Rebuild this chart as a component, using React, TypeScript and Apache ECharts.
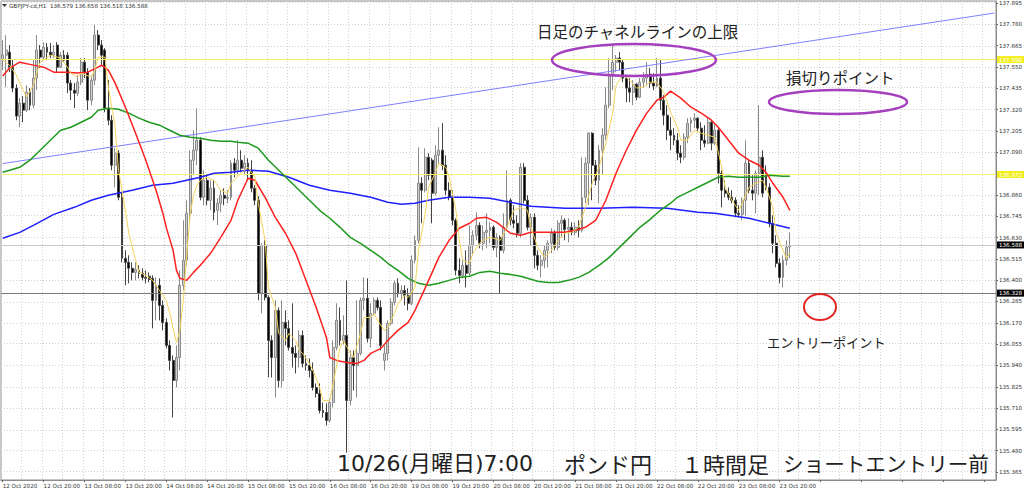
import React, { useEffect, useRef } from "react";
import * as echarts from "echarts";

// [open, close, low, high] per hourly bar, 12 Oct 08:00 .. 23 Oct 23:00
const CANDLES: number[][] = [
  [137.587,137.614,137.533,137.695],[137.614,137.641,137.441,137.722],[137.630,137.549,137.522,137.668],[137.549,137.436,137.414,137.587],
  [137.436,137.285,137.263,137.457],[137.285,137.355,137.225,137.382],[137.355,137.317,137.252,137.393],[137.317,137.414,137.306,137.452],
  [137.414,137.344,137.317,137.436],[137.344,137.490,137.328,137.587],[137.490,137.641,137.425,137.722],[137.641,137.603,137.544,137.668],
  [137.603,137.657,137.587,137.684],[137.657,137.630,137.587,137.679],[137.630,137.614,137.598,137.679],[137.614,137.630,137.598,137.668],
  [137.668,137.549,137.517,137.684],[137.549,137.614,137.544,137.630],[137.614,137.587,137.576,137.641],[137.614,137.463,137.409,137.630],
  [137.463,137.425,137.371,137.479],[137.425,137.409,137.328,137.463],[137.409,137.468,137.393,137.506],[137.468,137.576,137.452,137.598],
  [137.576,137.522,137.490,137.598],[137.522,137.371,137.317,137.544],[137.371,137.479,137.344,137.506],[137.479,137.722,137.452,137.776],
  [137.722,137.668,137.641,137.749],[137.668,137.614,137.560,137.695],[137.641,137.328,137.306,137.652],[137.328,137.263,137.236,137.479],
  [137.263,137.020,136.993,137.290],[137.020,137.085,136.901,137.112],[137.085,136.847,136.831,137.101],[136.847,136.518,136.496,136.874],
  [136.518,136.496,136.372,136.561],[136.496,136.464,136.383,136.534],[136.464,136.442,136.399,136.496],[136.442,136.458,136.399,136.496],
  [136.453,136.437,136.410,136.480],[136.437,136.415,136.399,136.464],[136.415,136.410,136.383,136.453],[136.421,136.404,136.388,136.442],
  [136.410,136.291,136.140,136.426],[136.291,136.372,136.183,136.415],[136.372,136.264,136.183,136.410],[136.264,136.172,136.129,136.291],
  [136.172,136.048,136.032,136.194],[136.048,135.967,135.913,136.075],[135.967,135.859,135.659,135.994],[135.859,135.983,135.821,136.048],
  [135.983,136.372,135.913,136.453],[136.372,136.507,136.345,136.723],[136.507,136.761,136.480,136.831],[136.761,137.047,136.723,137.101],
  [137.047,137.101,136.966,137.209],[137.101,137.155,137.020,137.328],[137.155,136.847,136.831,137.171],[136.847,136.939,136.804,136.993],
  [136.939,136.831,136.804,136.966],[136.831,136.896,136.777,136.939],[136.896,136.766,136.723,136.939],[136.777,136.815,136.696,136.842],
  [136.815,136.858,136.766,136.885],[136.858,136.842,136.804,136.896],[136.842,136.847,136.815,136.885],[136.847,137.031,136.831,137.047],
  [137.031,136.993,136.955,137.058],[136.993,137.047,136.966,137.155],[137.047,137.004,136.982,137.101],[137.004,137.031,136.966,137.074],
  [137.031,136.993,136.939,137.058],[136.993,136.896,136.874,137.047],[136.896,136.831,136.804,136.912],[136.831,136.329,136.291,136.853],
  [136.329,136.588,136.221,136.599],[136.588,136.307,136.291,136.615],[136.307,136.075,135.875,136.318],[136.075,135.983,135.875,136.102],
  [135.983,136.237,135.767,136.291],[136.237,135.859,135.821,136.253],[135.859,136.172,135.821,136.291],[136.172,136.140,136.048,136.237],
  [136.140,136.037,136.021,136.183],[136.037,136.005,135.929,136.275],[136.005,135.983,135.897,136.048],[135.983,136.102,135.929,136.129],
  [136.102,135.951,135.929,136.129],[135.951,135.940,135.913,135.994],[135.940,135.913,135.875,135.978],[135.913,135.821,135.805,135.956],
  [135.821,135.789,135.767,135.843],[135.789,135.697,135.681,135.843],[135.697,135.686,135.659,135.740],[135.686,135.643,135.616,135.735],
  [135.643,135.740,135.632,135.762],[135.740,136.037,135.713,136.075],[136.037,136.183,136.021,136.275],[136.183,136.075,136.048,136.253],
  [136.075,136.102,136.053,136.210],[136.102,135.751,135.470,136.399],[135.751,135.983,135.724,136.021],[135.983,135.940,135.805,136.021],
  [135.940,136.005,135.767,136.291],[136.005,136.291,135.994,136.307],[136.291,136.302,136.237,136.415],[136.302,136.086,136.064,136.410],
  [136.086,136.221,136.037,136.275],[136.221,136.291,136.210,136.307],[136.291,136.253,136.237,136.307],[136.253,136.048,136.021,136.291],
  [135.967,136.005,135.913,136.048],[136.005,136.167,135.967,136.183],[136.167,136.280,136.156,136.302],[136.280,136.383,136.264,136.399],
  [136.383,136.329,136.307,136.410],[136.329,136.345,136.291,136.372],[136.345,136.318,136.264,136.372],[136.318,136.275,136.237,136.356],
  [136.275,136.507,136.264,136.534],[136.507,136.615,136.491,136.642],[136.615,136.923,136.599,137.117],[136.923,136.885,136.707,136.955],
  [136.885,137.063,136.874,137.112],[137.063,136.966,136.939,137.085],[137.047,136.869,136.707,137.058],[136.869,137.074,136.858,137.128],
  [137.074,137.101,137.020,137.225],[137.101,137.020,136.993,137.247],[137.020,136.885,136.858,137.074],[136.885,136.847,136.831,136.928],
  [136.847,136.723,136.696,136.885],[136.723,136.453,136.426,136.734],[136.453,136.426,136.383,136.518],[136.426,136.480,136.410,136.518],
  [136.480,136.437,136.361,136.561],[136.437,136.588,136.426,136.696],[136.588,136.642,136.534,136.669],[136.642,136.696,136.615,136.766],
  [136.696,136.599,136.572,136.712],[136.599,136.658,136.561,136.696],[136.658,136.669,136.572,136.761],[136.669,136.685,136.599,136.712],
  [136.685,136.577,136.561,136.696],[136.577,136.631,136.523,136.653],[136.631,136.561,136.329,136.642],[136.561,136.685,136.545,136.761],
  [136.685,136.831,136.669,136.993],[136.831,136.723,136.696,136.842],[136.723,136.707,136.680,136.804],[136.707,136.653,136.631,136.750],
  [136.653,137.009,136.631,137.031],[137.009,136.831,136.815,137.031],[136.831,136.685,136.669,136.858],[136.685,136.739,136.588,136.761],
  [136.739,136.534,136.464,136.761],[136.534,136.480,136.453,136.561],[136.480,136.507,136.415,136.534],[136.507,136.561,136.464,136.588],
  [136.561,136.599,136.469,136.615],[136.599,136.653,136.545,136.680],[136.653,136.577,136.561,136.669],[136.577,136.707,136.561,136.723],
  [136.707,136.723,136.631,136.750],[136.723,136.674,136.615,136.734],[136.674,136.685,136.604,136.734],[136.685,136.658,136.642,136.712],
  [136.658,136.685,136.642,136.712],[136.685,136.669,136.631,136.723],[136.669,136.847,136.658,137.063],[136.847,137.031,136.815,137.063],
  [137.031,137.193,136.804,137.198],[137.193,137.020,136.831,137.198],[137.020,136.939,136.912,137.047],[136.939,137.101,136.815,137.128],
  [137.101,137.182,136.966,137.220],[137.182,137.344,137.155,137.441],[137.344,137.506,137.328,137.598],[137.506,137.576,137.425,137.668],
  [137.576,137.598,137.522,137.614],[137.598,137.576,137.533,137.630],[137.576,137.490,137.468,137.587],[137.490,137.436,137.360,137.506],
  [137.436,137.414,137.360,137.490],[137.414,137.457,137.344,137.479],[137.457,137.387,137.371,137.463],[137.387,137.468,137.382,137.490],
  [137.468,137.490,137.436,137.522],[137.490,137.511,137.452,137.576],[137.511,137.463,137.436,137.544],[137.463,137.447,137.425,137.517],
  [137.447,137.490,137.441,137.598],[137.490,137.371,137.317,137.587],[137.371,137.290,137.236,137.398],[137.290,137.209,137.155,137.344],
  [137.209,137.182,137.101,137.279],[137.182,137.155,137.128,137.220],[137.155,137.085,137.047,137.193],[137.085,137.063,137.031,137.128],
  [137.063,137.171,137.047,137.193],[137.171,137.247,137.139,137.274],[137.247,137.263,137.198,137.279],[137.263,137.274,137.220,137.301],
  [137.274,137.220,137.198,137.279],[137.220,137.155,137.101,137.252],[137.155,137.139,137.117,137.236],[137.139,137.252,137.133,137.279],
  [137.252,137.139,137.101,137.263],[137.139,137.209,137.128,137.247],[137.209,136.977,136.923,137.220],[136.977,136.885,136.793,136.993],
  [136.885,136.869,136.847,136.939],[136.869,136.847,136.831,136.901],[136.847,136.831,136.815,136.885],[136.831,136.761,136.739,136.847],
  [136.761,136.755,136.739,136.804],[136.755,136.831,136.723,136.847],[136.831,137.031,136.745,137.155],[137.031,136.885,136.869,137.047],
  [136.885,136.869,136.831,136.966],[136.869,136.977,136.761,136.993],[136.977,137.063,136.858,137.344],[137.063,136.869,136.847,137.101],
  [136.966,136.901,136.885,137.020],[136.901,136.707,136.685,136.923],[136.707,136.599,136.545,136.750],[136.599,136.491,136.469,136.642],
  [136.491,136.415,136.383,136.518],[136.415,136.507,136.361,136.534],[136.507,136.577,136.480,136.615],[136.579,136.588,136.518,136.658],
];

const TOTAL_SLOTS = 292; // bars plus empty space to the right edge

const X_TICK_LABELS = [
  "12 Oct 2020", "12 Oct 20:00", "13 Oct 08:00", "13 Oct 20:00", "14 Oct 08:00", "14 Oct 20:00",
  "15 Oct 08:00", "15 Oct 20:00", "16 Oct 08:00", "16 Oct 20:00", "19 Oct 08:00", "19 Oct 20:00",
  "20 Oct 08:00", "20 Oct 20:00", "21 Oct 08:00", "21 Oct 20:00", "22 Oct 08:00", "22 Oct 20:00",
  "23 Oct 08:00", "23 Oct 20:00",
];

const Y_TICKS = [
  137.895, 137.78, 137.665, 137.55, 137.435, 137.32, 137.205, 137.09, 136.975, 136.86, 136.745, 136.63,
  136.515, 136.4, 136.285, 136.17, 136.055, 135.94, 135.825, 135.71, 135.595, 135.48, 135.365,
];
const Y_MIN = 135.322;
const Y_MAX = 137.906;

// moving averages: [bar index, value]
const MA_YELLOW: number[][] = [
  [0,137.587],[2,137.560],[4,137.506],[6,137.425],[7,137.387],[9,137.452],[11,137.576],[14,137.614],[17,137.598],[19,137.549],
  [20,137.517],[22,137.495],[23,137.517],[26,137.495],[27,137.533],[28,137.603],[30,137.603],[31,137.441],[33,137.225],[34,136.993],
  [36,136.777],[37,136.653],[39,136.507],[40,136.442],[42,136.426],[44,136.399],[46,136.345],[48,136.291],[49,136.226],[50,136.140],
  [51,136.064],[52,136.129],[53,136.291],[54,136.534],[55,136.750],[56,136.858],[57,136.912],[58,136.939],[60,136.955],[62,136.939],
  [64,136.885],[66,136.869],[67,136.923],[70,136.977],[72,137.009],[74,136.955],[75,136.815],[77,136.615],[78,136.361],[80,136.253],
  [81,136.113],[83,136.075],[84,136.113],[86,136.075],[87,136.021],[88,136.005],[90,135.951],[91,135.913],[93,135.821],[94,135.751],
  [96,135.751],[97,135.843],[99,136.037],[100,136.075],[102,136.005],[103,135.983],[105,136.113],[106,136.199],[108,136.199],[109,136.221],
  [110,136.183],[112,136.129],[113,136.145],[115,136.221],[116,136.275],[118,136.318],[119,136.307],[121,136.361],[122,136.561],[124,136.761],
  [125,136.901],[127,136.982],[128,137.031],[130,137.009],[131,136.955],[133,136.777],[134,136.615],[135,136.507],[137,136.491],[138,136.545],
  [140,136.599],[141,136.615],[143,136.631],[144,136.626],[146,136.615],[148,136.685],[150,136.777],[152,136.793],[154,136.777],[155,136.685],
  [157,136.577],[159,136.523],[161,136.561],[163,136.615],[165,136.653],[167,136.658],[169,136.685],[171,136.793],[173,136.923],[175,137.009],
  [177,137.139],[179,137.301],[180,137.452],[182,137.506],[184,137.479],[186,137.436],[188,137.441],[190,137.468],[192,137.468],[194,137.414],
  [196,137.306],[198,137.225],[199,137.155],[201,137.155],[203,137.209],[205,137.193],[207,137.182],[209,137.171],[211,137.009],[212,136.901],
  [214,136.831],[216,136.777],[217,136.815],[219,136.901],[221,136.923],[223,136.939],[224,136.901],[226,136.793],[227,136.653],[229,136.561],
  [230,136.518],[231,136.545],
];

const MA_RED: number[][] = [
  [0,137.501],[2,137.544],[5,137.576],[9,137.560],[12,137.549],[15,137.522],[19,137.522],[22,137.517],[25,137.522],[28,137.549],
  [29,137.560],[31,137.533],[33,137.463],[36,137.333],[39,137.193],[42,137.047],[45,136.885],[47,136.761],[48,136.685],[50,136.561],
  [51,136.453],[52,136.410],[54,136.399],[56,136.442],[58,136.480],[61,136.545],[64,136.631],[67,136.723],[69,136.831],[72,136.950],
  [74,136.939],[77,136.847],[80,136.739],[83,136.653],[86,136.545],[89,136.399],[92,136.253],[95,136.091],[96,135.983],[98,135.967],
  [101,135.956],[104,135.951],[106,135.967],[108,136.005],[111,136.032],[113,136.075],[116,136.129],[119,136.172],[121,136.237],[123,136.318],
  [125,136.399],[128,136.523],[131,136.615],[134,136.680],[137,136.707],[139,136.734],[142,136.739],[145,136.712],[149,136.653],[152,136.642],
  [155,136.658],[160,136.658],[165,136.658],[168,136.669],[171,136.685],[174,136.723],[177,136.831],[180,136.977],[183,137.101],[186,137.209],
  [189,137.301],[192,137.371],[194,137.387],[196,137.420],[199,137.382],[202,137.333],[205,137.301],[208,137.263],[210,137.225],[213,137.155],
  [216,137.085],[219,137.047],[222,137.020],[224,136.982],[226,136.923],[229,136.847],[231,136.777],
];

const MA_GREEN: number[][] = [
  [0,136.982],[2,136.993],[5,137.009],[8,137.047],[11,137.101],[14,137.155],[17,137.209],[20,137.225],[23,137.252],[26,137.279],
  [28,137.317],[31,137.328],[34,137.322],[37,137.301],[40,137.274],[43,137.252],[46,137.236],[49,137.209],[52,137.182],[55,137.171],
  [58,137.166],[61,137.155],[64,137.150],[67,137.150],[69,137.144],[72,137.139],[75,137.112],[78,137.047],[81,136.993],[84,136.939],
  [87,136.885],[90,136.831],[93,136.777],[96,136.734],[99,136.685],[102,136.631],[105,136.599],[108,136.561],[111,136.523],[113,136.491],
  [116,136.453],[119,136.410],[122,136.383],[125,136.372],[128,136.383],[131,136.399],[134,136.415],[137,136.421],[140,136.442],[143,136.448],
  [146,136.437],[149,136.431],[152,136.421],[154,136.410],[157,136.394],[160,136.388],[163,136.388],[166,136.399],[169,136.415],[172,136.442],
  [175,136.480],[178,136.523],[181,136.577],[184,136.631],[187,136.685],[190,136.728],[193,136.777],[196,136.815],[198,136.847],[201,136.874],
  [204,136.901],[207,136.928],[210,136.955],[213,136.961],[216,136.955],[219,136.955],[222,136.955],[225,136.966],[229,136.961],[231,136.961],
];

const MA_BLUE: number[][] = [
  [0,136.626],[5,136.658],[9,136.696],[15,136.755],[21,136.793],[26,136.831],[31,136.858],[38,136.885],[44,136.912],[50,136.923],
  [54,136.939],[58,136.955],[62,136.977],[67,136.982],[72,136.993],[78,136.988],[84,136.955],[90,136.912],[96,136.885],[102,136.869],
  [108,136.847],[113,136.820],[117,136.809],[121,136.815],[125,136.831],[131,136.847],[137,136.847],[143,136.842],[146,136.831],[155,136.799],
  [165,136.788],[175,136.788],[185,136.793],[195,136.788],[204,136.766],[209,136.761],[219,136.734],[225,136.707],[231,136.680],
];

const LEVELS = [
  { value: 137.59, line: "#f6f36a", box: "#f2ee1c", text: "#ffffff" },
  { value: 136.972, line: "#f6f36a", box: "#f2ee1c", text: "#ffffff" },
  { value: 136.588, line: "#c8c8c8", box: "#000000", text: "#ffffff" },
  { value: 136.328, line: "#7a7a7a", box: "#000000", text: "#ffffff" },
];

const TREND_START = { bar: 0, value: 137.029 };
const TREND_END = { bar: 291, value: 137.841 };

const HEADER = "GBPJPY-cd,H1  136.579 136.658 136.518 136.588";
const NOTE_CHANNEL = "日足のチャネルラインの上限";
const NOTE_STOP = "損切りポイント";
const NOTE_ENTRY = "エントリーポイント";
const CAPTION = ["10/26(月曜日)7:00", "ポンド円", "１時間足", "ショートエントリー前"];

const JP = "'Noto Sans CJK JP', 'Noto Sans', sans-serif";
const JP_WIDE_DIGITS = "'DejaVu Sans', 'Noto Sans CJK JP', sans-serif";
const SMALL = "'DejaVu Sans', 'Liberation Sans', sans-serif";

export default function App() {
  const ref = useRef<HTMLDivElement>(null);
  useEffect(() => {
    const chart = echarts.init(ref.current!, null, { renderer: "svg" });
    const categories = Array.from({ length: TOTAL_SLOTS }, (_, i) => "b" + i);
    const maSeries = (name: string, data: number[][], color: string, width: number) => ({
      name,
      type: "line",
      data,
      symbol: "none",
      showSymbol: false,
      connectNulls: true,
      silent: true,
      z: 5,
      lineStyle: { color, width },
    });
    const captionStyle = [
      { x: 337, size: 22, font: JP_WIDE_DIGITS },
      { x: 564, size: 22, font: JP },
      { x: 681, size: 22, font: JP },
      { x: 783, size: 20.6, font: JP },
    ];
    const option: any = {
      animation: false,
      backgroundColor: "#ffffff",
      textStyle: { fontFamily: SMALL },
      grid: {
        left: 1, top: 1, width: 995, height: 479,
        show: true, borderColor: "#8c8c8c", borderWidth: 1,
        outerBoundsMode: "none",
      },
      xAxis: {
        type: "category",
        data: categories,
        boundaryGap: true,
        axisLine: { show: true, lineStyle: { color: "#8c8c8c", width: 1 } },
        axisTick: { show: true, interval: 11, alignWithLabel: true, length: 2, lineStyle: { color: "#666" } },
        axisLabel: {
          interval: 11,
          align: "left",
          fontSize: 5.6,
          color: "#333",
          margin: 3,
          fontFamily: SMALL,
          formatter: (_v: string, i: number) => (i % 12 === 0 && X_TICK_LABELS[i / 12]) || "",
        },
        splitLine: { show: true, interval: 5, lineStyle: { color: "#d2d2d2", type: [1, 2], width: 1 } },
      },
      yAxis: {
        type: "value",
        position: "right",
        min: Y_MIN,
        max: Y_MAX,
        axisLine: { show: true, lineStyle: { color: "#8c8c8c", width: 1 } },
        axisTick: { show: true, customValues: Y_TICKS, length: 2, lineStyle: { color: "#666" } },
        axisLabel: {
          customValues: Y_TICKS,
          fontSize: 5.6,
          color: "#333",
          margin: 3,
          fontFamily: SMALL,
          formatter: (v: number) => v.toFixed(3),
        },
        splitLine: { show: false },
      },
      series: [
        {
          name: "grid",
          type: "line",
          data: [],
          silent: true,
          z: 1,
          markLine: {
            silent: true,
            z: 1,
            symbol: ["none", "none"],
            label: { show: false },
            lineStyle: { color: "#d2d2d2", type: [1, 2], width: 1 },
            data: Y_TICKS.map((v) => ({ yAxis: v })),
          },
        },
        {
          name: "GBPJPY",
          type: "candlestick",
          data: CANDLES,
          barWidth: 2.4,
          z: 3,
          itemStyle: {
            color: "#cfcfcf",
            color0: "#000000",
            borderColor: "#8a8a8a",
            borderColor0: "#444444",
            borderWidth: 1,
          },
          markLine: {
            silent: true,
            z: 4,
            symbol: ["none", "none"],
            data: [
              ...LEVELS.map((l) => ({
                yAxis: l.value,
                lineStyle: { color: l.line, width: 1, type: "solid" },
                label: {
                  show: true,
                  position: "end",
                  distance: 1,
                  formatter: l.value.toFixed(3),
                  fontSize: 5.6,
                  fontFamily: SMALL,
                  color: l.text,
                  backgroundColor: l.box,
                  padding: [1, 2, 0, 2],
                },
              })),
              [
                {
                  coord: ["b" + TREND_START.bar, TREND_START.value],
                  lineStyle: { color: "#7f7fff", width: 1, type: "solid" },
                  label: { show: false },
                },
                { coord: ["b" + TREND_END.bar, TREND_END.value] },
              ],
            ],
          },
        },
        maSeries("MA200", MA_BLUE, "#1f1fff", 1.5),
        maSeries("MA75", MA_GREEN, "#1e9a1e", 1.5),
        maSeries("MA21", MA_RED, "#ff2020", 1.5),
        maSeries("MA5", MA_YELLOW, "#f3d35c", 1),
      ],
      graphic: [
        { type: "polygon", shape: { points: [[2, 4], [7, 4], [4.5, 7]] }, style: { fill: "#333" }, z: 10 },
        {
          type: "text", left: 9, top: 2.5, z: 10,
          style: { text: HEADER, fontSize: 5.6, fill: "#333", fontFamily: SMALL },
        },
        {
          type: "text", x: 537, y: 31, z: 10,
          style: { text: NOTE_CHANNEL, fontSize: 15.5, fill: "#222", fontFamily: JP, textVerticalAlign: "middle" },
        },
        {
          type: "ellipse", z: 10,
          shape: { cx: 634, cy: 60, rx: 82, ry: 16 },
          style: { fill: "none", stroke: "#a43fbe", lineWidth: 2.5 },
        },
        {
          type: "text", x: 786, y: 77, z: 10,
          style: { text: NOTE_STOP, fontSize: 15.5, fill: "#222", fontFamily: JP, textVerticalAlign: "middle" },
        },
        {
          type: "ellipse", z: 10,
          shape: { cx: 838, cy: 102, rx: 69, ry: 12 },
          style: { fill: "none", stroke: "#a43fbe", lineWidth: 2.5 },
        },
        {
          type: "ellipse", z: 10,
          shape: { cx: 820, cy: 307, rx: 16, ry: 13 },
          style: { fill: "none", stroke: "#e32626", lineWidth: 2 },
        },
        {
          type: "text", x: 767, y: 342, z: 10,
          style: { text: NOTE_ENTRY, fontSize: 13.2, fill: "#222", fontFamily: JP, textVerticalAlign: "middle" },
        },
        ...CAPTION.map((t, i) => ({
          type: "text", x: captionStyle[i].x, y: 463, z: 10,
          style: {
            text: t,
            fontSize: captionStyle[i].size,
            fill: "#222",
            fontFamily: captionStyle[i].font,
            textVerticalAlign: "middle",
          },
        })),
      ],
    };
    chart.setOption(option);
    return () => chart.dispose();
  }, []);
  return (
    <div
      ref={ref}
      style={{ position: "fixed", left: 0, top: 0, width: 1024, height: 491, background: "#fff" }}
    />
  );
}
